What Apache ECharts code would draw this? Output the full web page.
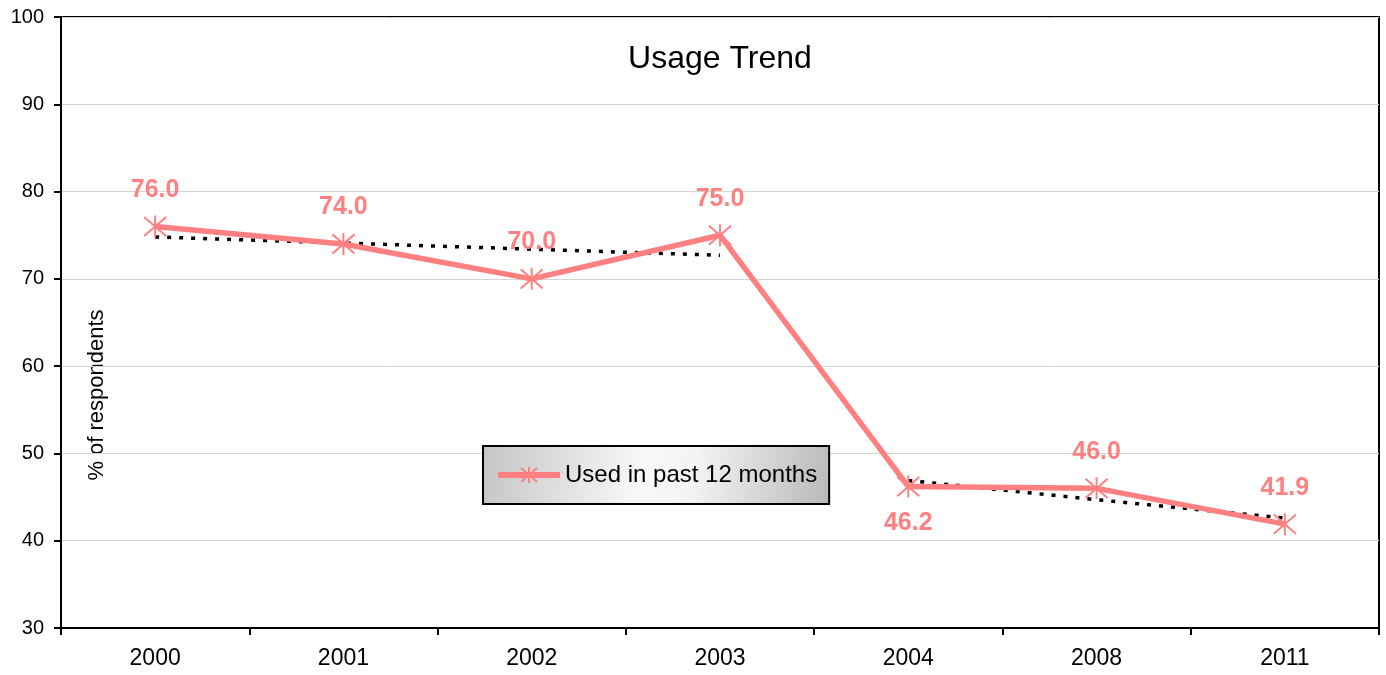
<!DOCTYPE html>
<html><head><meta charset="utf-8">
<script src="https://cdn.jsdelivr.net/npm/echarts@6/dist/echarts.min.js"></script>
<style>html,body{margin:0;padding:0;background:#fff}#c{width:1386px;height:675px}</style>
</head><body><div id="c"></div>
<script>
const categories = ['2000','2001','2002','2003','2004','2008','2011'];
const usedPast12 = [76.0, 74.0, 70.0, 75.0, 46.2, 46.0, 41.9];
const labelBelow = [false, false, false, false, true, false, false];
const trendEarly = [74.8, 74.1, 73.4, 72.7, '-', '-', '-'];
const trendLate = ['-', '-', '-', '-', 46.9, 44.7, 42.6];
const yTicks = [30, 40, 50, 60, 70, 80, 90, 100];

const FONT = '"Liberation Sans", Arial, sans-serif';
const PINK = '#FF8080';
const star = 'path://M0,-10L0,10M-8.7,-8.7L8.7,8.7M-8.7,8.7L8.7,-8.7';

const chart = echarts.init(document.getElementById('c'));
chart.setOption({
  animation: false,
  textStyle: {fontFamily: FONT},
  title: {text: 'Usage Trend', left: 715, textAlign: 'center', top: 38,
    textStyle: {fontFamily: FONT, fontSize: 32, fontWeight: 'normal', color: '#000'}},
  grid: {left: 61, right: 7, top: 17, bottom: 47, show: true, borderColor: '#000', borderWidth: 2, backgroundColor: 'transparent'},
  legend: {
    data: ['Used in past 12 months'], left: 483, top: 446, padding: [17, 12, 17, 12],
    itemWidth: 62, itemHeight: 20, itemGap: 4,
    borderColor: '#000', borderWidth: 2,
    lineStyle: {width: 6},
    backgroundColor: new echarts.graphic.LinearGradient(0, 0, 1, 1, [
      {offset: 0, color: '#c4c4c4'}, {offset: 0.45, color: '#f8f8f8'}, {offset: 0.6, color: '#f4f4f4'}, {offset: 1, color: '#b8b8b8'}]),
    textStyle: {fontFamily: FONT, fontSize: 24, color: '#000'}
  },
  xAxis: {
    type: 'category', data: categories, boundaryGap: true,
    axisLine: {lineStyle: {color: '#000', width: 2}},
    axisTick: {show: true, length: 7, lineStyle: {color: '#000', width: 2}},
    axisLabel: {fontFamily: FONT, fontSize: 23, color: '#000', margin: 19}
  },
  yAxis: {
    type: 'value', min: yTicks[0], max: yTicks[yTicks.length-1], interval: 10,
    axisLine: {show: true, lineStyle: {color: '#000', width: 2}},
    axisTick: {show: true, length: 7, lineStyle: {color: '#000', width: 2}},
    axisLabel: {fontFamily: FONT, fontSize: 20, color: '#000', margin: 17},
    splitLine: {show: true, lineStyle: {color: '#d4d4d4', width: 1}}
  },
  graphic: [{
    type: 'text', x: 97, y: 395, rotation: Math.PI / 2,
    style: {text: '% of respondents', fontFamily: FONT, fontSize: 22, fill: '#000', align: 'center', verticalAlign: 'middle'}
  }],
  series: [
    {name: 'trend1', type: 'line', data: trendEarly, symbol: 'none', z: 1, silent: true,
      lineStyle: {color: '#000', width: 3.5, type: [4, 8], cap: 'butt'}},
    {name: 'trend2', type: 'line', data: trendLate, symbol: 'none', z: 1, silent: true,
      lineStyle: {color: '#000', width: 3.5, type: [4, 8], cap: 'butt'}},
    {name: 'Used in past 12 months', type: 'line', z: 3,
      data: usedPast12.map((v, i) => ({value: v, label: {position: labelBelow[i] ? 'bottom' : 'top'}})),
      symbol: star, symbolSize: 22, showAllSymbol: true,
      itemStyle: {color: PINK, borderColor: PINK, borderWidth: 2},
      lineStyle: {color: PINK, width: 5.5},
      label: {show: true, distance: 12, fontFamily: FONT, fontSize: 25, fontWeight: 'bold', color: PINK,
        formatter: p => Number(p.value).toFixed(1)}
    }
  ]
});
</script></body></html>
